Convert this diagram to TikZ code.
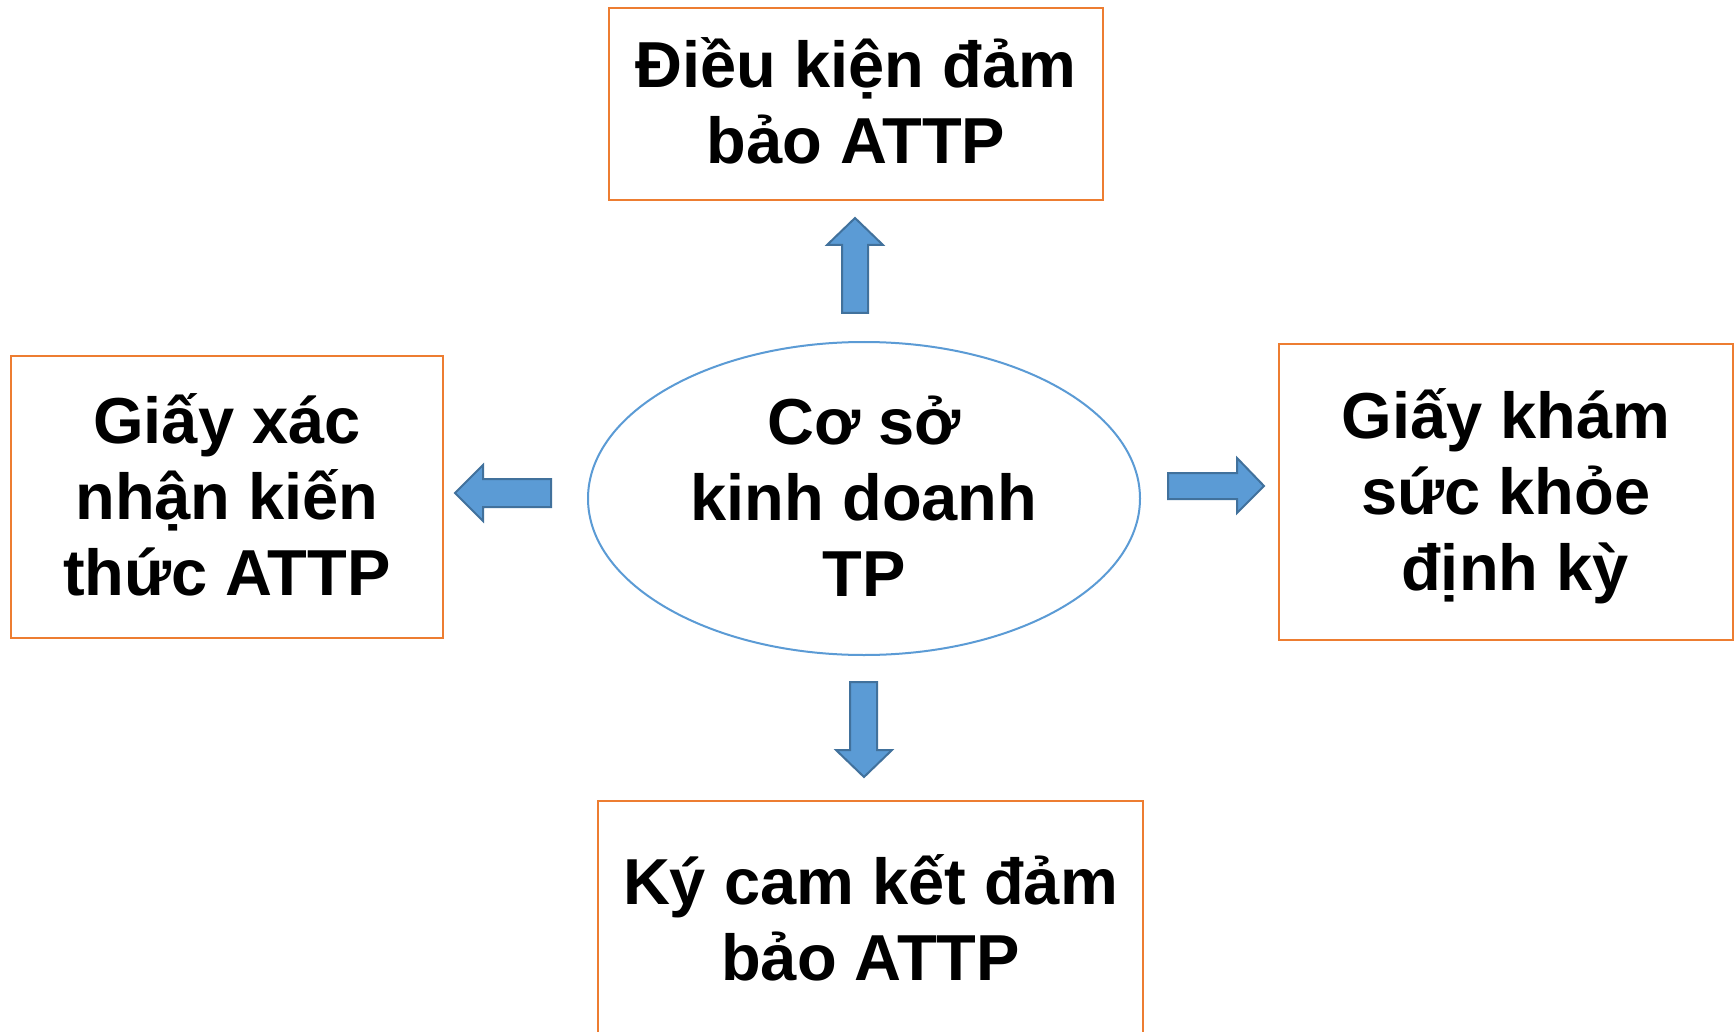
\documentclass[tikz,border=0pt]{standalone}
\usepackage{fontspec}
\setmainfont{Liberation Sans}
\usetikzlibrary{shapes.geometric}
\definecolor{orng}{HTML}{ED7D31}
\definecolor{blu}{HTML}{5B9BD5}
\definecolor{bluedge}{HTML}{41719C}
\newcommand\lstrut{\rule[-16pt]{0pt}{76pt}}
\begin{document}
\begin{tikzpicture}[x=1pt,y=-1pt,
  txt/.style={align=center, font=\fontsize{65}{76}\selectfont\bfseries, inner sep=0pt},
  box/.style={txt, draw=orng, line width=2pt, rectangle},
  oval/.style={draw=blu, line width=2pt, ellipse, inner sep=0pt},
  blockarrow/.style={fill=blu, draw=bluedge, line width=2pt, line join=miter}]
\useasboundingbox (0,0) rectangle (1735,1032);
\clip (0,0) rectangle (1735,1032);
\fill[white] (0,0) rectangle (1735,1032);
\node[oval, minimum width=552pt, minimum height=313pt] (center) at (864,498.5) {};
\node[txt] (centertext) at (center.center) {\lstrut Cơ sở\\kinh doanh\\TP\lstrut};
\node[box, minimum width=494pt, minimum height=192pt] (top) at (856,104) {\lstrut Điều kiện đảm\\bảo ATTP\lstrut};
\node[box, minimum width=432pt, minimum height=282pt] (left) at (227,497) {\lstrut Giấy xác\\nhận kiến\\thức ATTP\lstrut};
\node[box, minimum width=454pt, minimum height=296pt] (right) at (1506,492) {\lstrut Giấy khám\\sức khỏe\\\hspace*{18pt}định kỳ\lstrut};
\node[box, minimum width=545pt, minimum height=238pt] (bottom) at (870.5,920) {\lstrut Ký cam kết đảm\\bảo ATTP\lstrut};
% block arrows
\draw[blockarrow] (855,218) -- (883,245) -- (868,245) -- (868,313) -- (842,313) -- (842,245) -- (827,245) -- cycle;
\draw[blockarrow] (864,777) -- (892,750) -- (877,750) -- (877,682) -- (850,682) -- (850,750) -- (836,750) -- cycle;
\draw[blockarrow] (455,493) -- (483,465) -- (483,479) -- (551,479) -- (551,507) -- (483,507) -- (483,521) -- cycle;
\draw[blockarrow] (1264,486) -- (1237,458) -- (1237,473) -- (1168,473) -- (1168,499) -- (1237,499) -- (1237,513) -- cycle;
\end{tikzpicture}
\end{document}
